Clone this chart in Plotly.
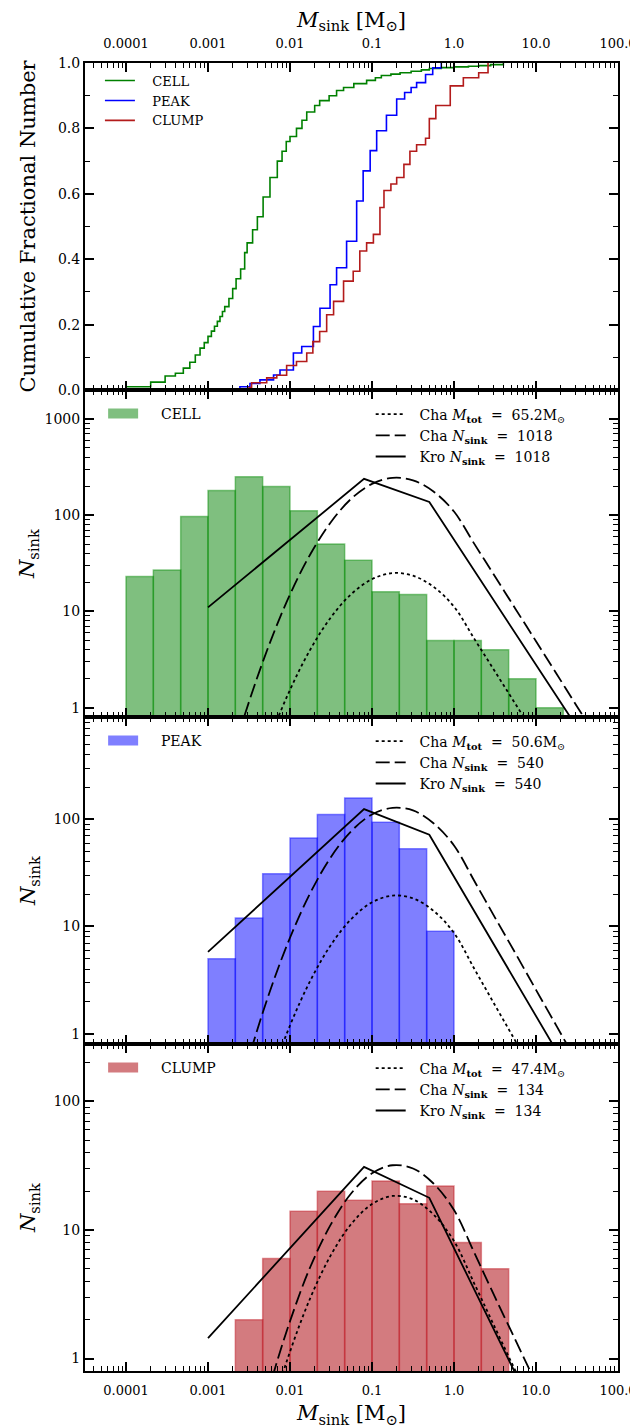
import plotly.graph_objects as go
from plotly.subplots import make_subplots

# ---------------- data ----------------
# cumulative fractional number (step curves)
cell_cum_mass = [1e-4, 2e-4, 3e-4, 4e-4, 5e-4, 6e-4, 7e-4, 8e-4, 9e-4, 1e-3, 1.1e-3, 1.2e-3,
                 1.3e-3, 1.4e-3, 1.5e-3, 1.6e-3, 1.8e-3, 2.0e-3, 2.2e-3, 2.5e-3, 2.8e-3, 3.0e-3,
                 3.5e-3, 4e-3, 4.7e-3, 5.7e-3, 7e-3, 8e-3, 9e-3, 0.01, 0.012, 0.014, 0.016, 0.02,
                 0.023, 0.03, 0.037, 0.045, 0.06, 0.086, 0.11, 0.13, 0.17, 0.22, 0.3, 0.4, 0.5,
                 0.7, 1.0, 1.5, 2.0, 2.8, 4.0]
cell_cum_frac = [0.010, 0.024, 0.043, 0.051, 0.067, 0.085, 0.107, 0.128, 0.145, 0.164, 0.18, 0.195,
                 0.21, 0.225, 0.24, 0.255, 0.28, 0.31, 0.34, 0.37, 0.42, 0.45,
                 0.49, 0.53, 0.59, 0.65, 0.70, 0.73, 0.76, 0.775, 0.80, 0.825, 0.85, 0.87,
                 0.885, 0.90, 0.916, 0.925, 0.937, 0.947, 0.955, 0.962, 0.966, 0.970, 0.975, 0.979, 0.983,
                 0.986, 0.988, 0.990, 0.992, 0.995, 1.0]

peak_cum_mass = [1.06e-3, 2.45e-3, 3.25e-3, 4.3e-3, 6.3e-3, 7.55e-3, 0.011, 0.0139, 0.0193,
                 0.0232, 0.0308, 0.037, 0.049, 0.065, 0.078, 0.095, 0.114, 0.15, 0.2, 0.25,
                 0.3, 0.35, 0.45, 0.55, 0.7]
peak_cum_frac = [0.002, 0.010, 0.020, 0.031, 0.046, 0.061, 0.113, 0.133, 0.194,
                 0.25, 0.322, 0.374, 0.455, 0.578, 0.67, 0.732, 0.793, 0.84, 0.89, 0.91,
                 0.925, 0.94, 0.965, 0.985, 1.0]

clump_cum_mass = [3.1e-3, 3.4e-3, 5.2e-3, 6.9e-3, 9.1e-3, 0.012, 0.016, 0.019, 0.023, 0.028,
                  0.034, 0.045, 0.059, 0.071, 0.086, 0.104, 0.125, 0.14, 0.17, 0.2, 0.245,
                  0.29, 0.35, 0.45, 0.5, 0.6, 0.9, 1.3, 2.0, 2.6]
clump_cum_frac = [0.0075, 0.022, 0.037, 0.045, 0.075, 0.087, 0.113, 0.148, 0.179, 0.23,
                  0.271, 0.333, 0.363, 0.425, 0.45, 0.476, 0.558, 0.61, 0.63, 0.65, 0.69,
                  0.73, 0.75, 0.77, 0.83, 0.87, 0.93, 0.955, 0.97, 1.0]

# histogram bin edges (1/3 dex) and counts
bin_edges = [1e-4, 2.154e-4, 4.642e-4, 1e-3, 2.154e-3, 4.642e-3, 0.01, 0.02154, 0.04642,
             0.1, 0.2154, 0.4642, 1.0, 2.154, 4.642, 10.0, 21.54]
cell_counts = [23, 27, 97, 180, 250, 198, 111, 50, 34, 16, 15, 5, 5, 4, 2, 1]
cell_first_bin = 0
peak_counts = [5, 12, 31, 67, 111, 158, 94, 53, 9]
peak_first_bin = 3
clump_counts = [2, 6, 14, 20, 17, 24, 16, 22, 8, 5]
clump_first_bin = 4

# model curves
model_mass = [0.001, 0.001778, 0.003162, 0.005623, 0.01, 0.01778, 0.03162, 0.05623, 0.1,
              0.1778, 0.3162, 0.5623, 1.0, 1.778, 3.162, 5.623, 10.0, 17.78, 31.62, 56.23, 100.0]
cell_cha_n = [0.039, 0.234, 1.15, 4.6, 15.0, 39.5, 85, 149, 211, 244, 230, 176, 109, 50, 23.1,
              10.6, 4.9, 2.25, 1.03, 0.475, 0.218]
cell_cha_m = [0.004, 0.024, 0.118, 0.471, 1.53, 4.05, 8.7, 15.2, 21.6, 25.0, 23.5, 18.0, 11.2,
              5.15, 2.37, 1.09, 0.50, 0.23, 0.106, 0.049, 0.022]
peak_cha_n = [0.020, 0.123, 0.605, 2.42, 7.85, 20.7, 44.6, 78, 111, 128, 121, 92, 57, 26.4, 12.1,
              5.6, 2.56, 1.18, 0.54, 0.25, 0.115]
peak_cha_m = [0.003, 0.019, 0.092, 0.366, 1.19, 3.14, 6.75, 11.8, 16.8, 19.4, 18.3, 14.0, 8.7,
              4.0, 1.84, 0.85, 0.39, 0.18, 0.082, 0.038, 0.017]
clump_cha_n = [0.005, 0.031, 0.151, 0.60, 1.95, 5.2, 11.1, 19.4, 27.6, 31.9, 30.1, 23.0, 14.3,
               6.6, 3.0, 1.39, 0.64, 0.29, 0.135, 0.062, 0.029]
clump_cha_m = [0.003, 0.018, 0.087, 0.35, 1.13, 2.98, 6.4, 11.2, 15.9, 18.4, 17.3, 13.2, 8.2,
               3.8, 1.74, 0.80, 0.37, 0.17, 0.078, 0.036, 0.016]

kro_mass = [0.001, 0.08, 0.5, 100.0]
cell_kro = [11, 238, 137, 0.14]
peak_kro = [5.8, 124.5, 71.8, 0.073]
clump_kro = [1.44, 31, 17.8, 0.018]

mtot = {"CELL": "65.2", "PEAK": "50.6", "CLUMP": "47.4"}
nsink = {"CELL": "1018", "PEAK": "540", "CLUMP": "134"}

x_tickvals = [1e-4, 1e-3, 1e-2, 1e-1, 1.0, 10.0, 100.0]
x_ticktext = ["0.0001", "0.001", "0.01", "0.1", "1.0", "10.0", "100.0"]

# ---------------- styling ----------------
FONT = "DejaVu Serif"
XTICK_FS = 13
YTICK_FS = 14
LEG_FS = 14
TITLE_FS = 21
SP = "\u00a0"   # non-breaking space for TeX-like spacing in legend labels
line_col = {"CELL": "#008000", "PEAK": "#0000ff", "CLUMP": "#b31b1b"}
bar_col = {"CELL": "rgba(0,128,0,0.5)", "PEAK": "rgba(0,0,255,0.5)", "CLUMP": "rgba(179,27,35,0.58)"}
edge_col = {"CELL": "rgba(0,140,0,0.45)", "PEAK": "rgba(0,0,255,0.45)", "CLUMP": "rgba(190,20,30,0.45)"}

fig = make_subplots(rows=4, cols=1, shared_xaxes=False, vertical_spacing=0)

# ---- panel 1 : cumulative ----
for name, mm, ff in [("CELL", cell_cum_mass, cell_cum_frac),
                     ("PEAK", peak_cum_mass, peak_cum_frac),
                     ("CLUMP", clump_cum_mass, clump_cum_frac)]:
    fig.add_trace(go.Scatter(x=mm, y=ff, mode="lines", line=dict(color=line_col[name], width=1.6, shape="hv"),
                             name=SP * 3 + name, legend="legend"), row=1, col=1)

# ---- panels 2-4 : histograms + models ----
panels = [("CELL", cell_counts, cell_first_bin, cell_cha_m, cell_cha_n, cell_kro, 2),
          ("PEAK", peak_counts, peak_first_bin, peak_cha_m, peak_cha_n, peak_kro, 3),
          ("CLUMP", clump_counts, clump_first_bin, clump_cha_m, clump_cha_n, clump_kro, 4)]

for name, counts, first, cha_m, cha_n, kro, row in panels:
    left = bin_edges[first:first + len(counts)]
    right = bin_edges[first + 1:first + 1 + len(counts)]
    widths = [r - l for l, r in zip(left, right)]
    bar_leg = "legend%d" % (2 * row - 2)
    line_leg = "legend%d" % (2 * row - 1)
    fig.add_trace(go.Bar(x=left, y=counts, width=widths, offset=0,
                         marker=dict(color=bar_col[name], line=dict(color=edge_col[name], width=1.5)),
                         showlegend=False, name=name), row=row, col=1)
    # legend swatch for histogram
    fig.add_trace(go.Scatter(x=[None], y=[None], mode="lines",
                             line=dict(color=bar_col[name], width=14),
                             name=SP * 4 + name, legend=bar_leg), row=row, col=1)
    eq = SP * 2 + "=" + SP * 2
    fig.add_trace(go.Scatter(x=model_mass, y=cha_m, mode="lines",
                             line=dict(color="black", width=1.8, dash="dot", shape="spline"),
                             name=SP * 2 + "Cha <i>M</i><sub><b>tot</b></sub>" + eq + mtot[name] + "M<sub>⊙</sub>",
                             legend=line_leg), row=row, col=1)
    fig.add_trace(go.Scatter(x=model_mass, y=cha_n, mode="lines",
                             line=dict(color="black", width=1.8, dash="14px,5px", shape="spline"),
                             name=SP * 2 + "Cha <i>N</i><sub><b>sink</b></sub>" + eq + nsink[name],
                             legend=line_leg), row=row, col=1)
    fig.add_trace(go.Scatter(x=kro_mass, y=kro, mode="lines",
                             line=dict(color="black", width=1.8),
                             name=SP * 2 + "Kro <i>N</i><sub><b>sink</b></sub>" + eq + nsink[name],
                             legend=line_leg), row=row, col=1)

# ---------------- axes ----------------
minor_x = [k * 10.0 ** e for e in range(-5, 2) for k in range(2, 10)]
minor_x = [v for v in minor_x if 3.1e-5 < v < 100]
minor_y = [k * 10.0 ** e for e in range(0, 4) for k in range(2, 10)]

common_ax = dict(showline=True, linecolor="black", linewidth=2, mirror="allticks",
                 ticks="inside", tickcolor="black", tickwidth=1.5, showgrid=False, zeroline=False,
                 automargin=False)

mtitle = "<i>M</i><sub>sink</sub> [M<sub>⊙</sub>]"
for r in range(1, 5):
    xa = dict(type="log", range=[-4.5, 2], tickmode="array", tickvals=x_tickvals, ticktext=x_ticktext,
              ticklen=9, ticklabeloverflow="allow",
              tickfont=dict(family=FONT, size=XTICK_FS, color="black"),
              minor=dict(tickmode="array", tickvals=minor_x, ticks="inside", ticklen=5,
                         tickcolor="black", tickwidth=1.2),
              **common_ax)
    if r == 1:
        xa.update(side="top", showticklabels=True, ticklabelstandoff=8,
                  title=dict(text=mtitle, font=dict(family=FONT, size=TITLE_FS, color="black"), standoff=9))
    elif r == 4:
        xa.update(side="bottom", showticklabels=True, ticklabelstandoff=6,
                  title=dict(text=mtitle, font=dict(family=FONT, size=TITLE_FS, color="black"), standoff=9))
    else:
        xa.update(showticklabels=False)
    fig.update_xaxes(row=r, col=1, **xa)

fig.update_yaxes(row=1, col=1, range=[0, 1.0], tickmode="array",
                 tickvals=[0, 0.2, 0.4, 0.6, 0.8, 1.0], ticktext=["0.0", "0.2", "0.4", "0.6", "0.8", "1.0"],
                 ticklen=9, tickfont=dict(family=FONT, size=YTICK_FS, color="black"),
                 minor=dict(tickmode="array", tickvals=[0.1, 0.3, 0.5, 0.7, 0.9], ticks="inside",
                            ticklen=5, tickcolor="black", tickwidth=1.2),
                 title=dict(text="Cumulative Fractional Number",
                            font=dict(family=FONT, size=TITLE_FS, color="black"), standoff=17),
                 **common_ax)

y_ranges = {2: [-0.097, 3.30], 3: [-0.097, 2.955], 4: [-0.097, 2.447]}
y_standoff = {2: 4, 3: 12, 4: 12}
for r in (2, 3, 4):
    fig.update_yaxes(row=r, col=1, type="log", range=y_ranges[r], tickmode="array",
                     tickvals=[1, 10, 100, 1000], ticktext=["1", "10", "100", "1000"], ticklen=9,
                     tickfont=dict(family=FONT, size=YTICK_FS, color="black"),
                     minor=dict(tickmode="array", tickvals=minor_y, ticks="inside", ticklen=5,
                                tickcolor="black", tickwidth=1.2),
                     title=dict(text="<i>N</i><sub>sink</sub>",
                                font=dict(family=FONT, size=TITLE_FS, color="black"), standoff=y_standoff[r]),
                     **common_ax)

# ---------------- legends ----------------
def leg(x, y, fs=LEG_FS):
    return dict(x=x, y=y, xanchor="left", yanchor="top", bgcolor="rgba(0,0,0,0)", borderwidth=0,
                font=dict(family=FONT, size=fs, color="black"), tracegroupgap=0, itemclick=False)

panel_h = 0.25
layout_legs = {"legend": leg(0.028, 0.998, fs=13)}
for i, row in enumerate((2, 3, 4)):
    top = 0.75 - i * panel_h
    layout_legs["legend%d" % (2 * row - 2)] = leg(0.034, top - 0.006)
    layout_legs["legend%d" % (2 * row - 1)] = leg(0.536, top - 0.0065)

# the page body adds an 8 px margin, so the figure is 8 px smaller than the window
fig.update_layout(
    width=630, height=1420,
    margin=dict(l=77, r=20, t=55, b=57),
    plot_bgcolor="white", paper_bgcolor="white",
    barmode="overlay",
    font=dict(family=FONT, size=YTICK_FS, color="black"),
    **layout_legs,
)

fig.write_html("out.html")
